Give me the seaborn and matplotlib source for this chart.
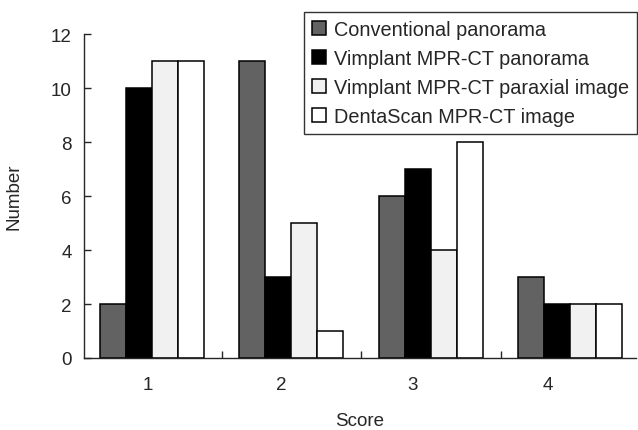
import matplotlib
matplotlib.use("Agg")
import matplotlib.pyplot as plt
import seaborn as sns
import pandas as pd

scores = ["1", "2", "3", "4"]
series = ["Conventional panorama", "Vimplant MPR-CT panorama",
          "Vimplant MPR-CT paraxial image", "DentaScan MPR-CT image"]
conventional = [2, 11, 6, 3]
vimplant_pano = [10, 3, 7, 2]
vimplant_paraxial = [11, 5, 4, 2]
dentascan = [11, 1, 8, 2]
yticks = [0, 2, 4, 6, 8, 10, 12]

values = [conventional, vimplant_pano, vimplant_paraxial, dentascan]
rows = []
for name, vals in zip(series, values):
    for s, v in zip(scores, vals):
        rows.append({"Score": s, "Number": v, "Series": name})
df = pd.DataFrame(rows)

sns.set_style("ticks")
plt.rcParams["font.family"] = ["Liberation Sans", "DejaVu Sans"]

fig = plt.figure(figsize=(6.38, 4.31), dpi=100)
ax = fig.add_axes([84 / 638, 72 / 431, (636 - 84) / 638, (359 - 35) / 431])

palette = ["#626262", "#000000", "#f1f1f1", "#ffffff"]
sns.barplot(data=df, x="Score", y="Number", hue="Series", hue_order=series,
            order=scores, palette=palette, width=0.745, edgecolor="black",
            linewidth=1.1, saturation=1, ax=ax, errorbar=None)

ax.set_xlim(-0.487, 3.47)
ax.set_ylim(0, 12)
ax.set_yticks(yticks)
ax.set_yticklabels([str(t) for t in yticks])
for side in ["top", "right"]:
    ax.spines[side].set_visible(False)
ax.spines["left"].set_linewidth(1.0)
ax.spines["bottom"].set_linewidth(1.0)

# tick labels sit slightly left of the group centres in the original
ax.set_xticks([-0.03, 0.93, 1.87, 2.84])
ax.set_xticklabels(scores)
ax.tick_params(axis="y", direction="in", length=5, width=1, labelsize=13.5, pad=9)
ax.tick_params(axis="x", which="major", length=0, labelsize=13.5, pad=13)
ax.set_xticks([0.5, 1.5, 2.5], minor=True)
ax.tick_params(axis="x", which="minor", direction="in", length=5, width=1)

ax.set_xlabel("Score", fontsize=13.5, labelpad=14)
ax.set_ylabel("Number", fontsize=13.5, labelpad=20)

handles, labels = ax.get_legend_handles_labels()
if ax.get_legend() is not None:
    ax.get_legend().remove()
leg = ax.legend(handles, labels, loc="upper right",
                bbox_to_anchor=(637 / 638, 1 - 13 / 431),
                bbox_transform=fig.transFigure, borderaxespad=0,
                fontsize=14.3, frameon=True, fancybox=False, shadow=False,
                handlelength=0.7, handleheight=0.7, handletextpad=0.4,
                labelspacing=0.5, borderpad=0.4)
leg.get_frame().set_edgecolor("black")
leg.get_frame().set_linewidth(1.0)

fig.savefig("out.png", dpi=100)
